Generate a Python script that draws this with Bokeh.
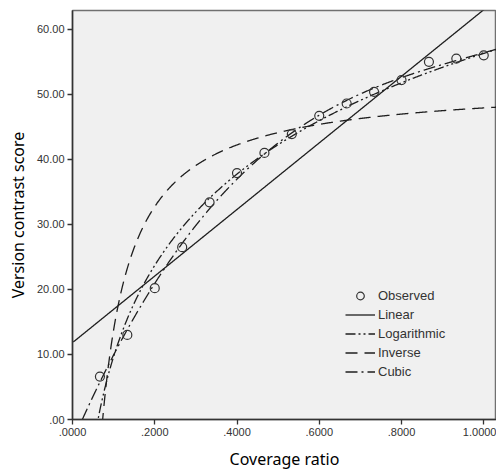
import numpy as np
from bokeh.plotting import figure
from bokeh.models import FixedTicker, Range1d, Legend, LegendItem
from bokeh.embed import file_html
from bokeh.resources import INLINE

# ---- data ----
coverage = [0.0667, 0.1333, 0.2000, 0.2667, 0.3333, 0.4000, 0.4667, 0.5333,
            0.6000, 0.6667, 0.7333, 0.8000, 0.8667, 0.9333, 1.0000]
score = [6.6, 13.0, 20.2, 26.5, 33.4, 37.9, 41.0, 43.9,
         46.7, 48.6, 50.4, 52.2, 55.0, 55.5, 56.0]

x_ticks = [0.0, 0.2, 0.4, 0.6, 0.8, 1.0]
x_tick_labels = [".0000", ".2000", ".4000", ".6000", ".8000", "1.0000"]
y_ticks = [0, 10, 20, 30, 40, 50, 60]
y_tick_labels = [".00", "10.00", "20.00", "30.00", "40.00", "50.00", "60.00"]

x_label = "Coverage ratio"
y_label = "Version contrast score"
series_names = ["Observed", "Linear", "Logarithmic", "Inverse", "Cubic"]

# ---- curve estimation (least squares fits of the observed data) ----
xo = np.array(coverage)
yo = np.array(score)
lin = np.polyfit(xo, yo, 1)
logc = np.polyfit(np.log(xo), yo, 1)
inv = np.polyfit(1.0 / xo, yo, 1)
cub = np.polyfit(xo, yo, 3)

xg = np.linspace(0.002, 1.04, 800)
y_lin = np.polyval(lin, xg)
y_log = np.polyval(logc, np.log(xg))
y_inv = np.polyval(inv, 1.0 / xg)
y_cub = np.polyval(cub, xg)

ink = "#1e1e1e"

p = figure(width=496, height=472, output_backend="svg", toolbar_location=None,
           x_range=Range1d(0, 1.031), y_range=Range1d(0, 62.9),
           min_border_left=72, min_border_right=0, min_border_top=10,
           min_border_bottom=50)

p.background_fill_color = "#f0f0f0"
p.border_fill_color = "white"
p.outline_line_color = "#707070"
p.outline_line_width = 1.5
p.xgrid.visible = False
p.ygrid.visible = False

for ax in (p.xaxis[0], p.yaxis[0]):
    ax.axis_line_color = "#333333"
    ax.axis_line_width = 1.5
    ax.major_tick_line_color = "#333333"
    ax.major_tick_line_width = 1.3
    ax.major_tick_out = 5
    ax.major_tick_in = 0
    ax.minor_tick_line_color = None
    ax.major_label_text_font = "Liberation Sans"
    ax.major_label_text_font_size = "11px"
    ax.major_label_text_color = "#333333"
    ax.major_label_standoff = 3
    ax.axis_label_text_font = "Noto Sans"
    ax.axis_label_text_font_size = "16px"
    ax.axis_label_text_font_style = "normal"
    ax.axis_label_text_color = "#000000"

p.xaxis[0].ticker = FixedTicker(ticks=x_ticks)
p.yaxis[0].ticker = FixedTicker(ticks=y_ticks)
p.xaxis[0].major_label_overrides = {t: l for t, l in zip(x_ticks, x_tick_labels)}
p.yaxis[0].major_label_overrides = {t: l for t, l in zip(y_ticks, y_tick_labels)}
p.xaxis[0].axis_label = x_label
p.yaxis[0].axis_label = y_label
p.xaxis[0].axis_label_standoff = 9
p.yaxis[0].axis_label_standoff = 5

r_lin = p.line(xg, y_lin, line_color=ink, line_width=1.3)
r_log = p.line(xg, y_log, line_color=ink, line_width=1.3, line_dash="10 3 2 3 2 3")
r_inv = p.line(xg, y_inv, line_color=ink, line_width=1.3, line_dash="12 7")
r_cub = p.line(xg, y_cub, line_color=ink, line_width=1.3, line_dash="12 4 2 4")
r_obs = p.scatter(coverage, score, marker="circle", size=9, fill_color=None,
                  line_color="#333333", line_width=1.2)

legend = Legend(items=[
    LegendItem(label=series_names[0], renderers=[r_obs]),
    LegendItem(label=series_names[1], renderers=[r_lin]),
    LegendItem(label=series_names[2], renderers=[r_log]),
    LegendItem(label=series_names[3], renderers=[r_inv]),
    LegendItem(label=series_names[4], renderers=[r_cub]),
], location=(273, 38))
legend.border_line_color = None
legend.background_fill_alpha = 0
legend.padding = 0
legend.margin = 0
legend.spacing = 0
legend.label_height = 19
legend.glyph_height = 19
legend.glyph_width = 30
legend.label_standoff = 3
legend.label_text_font = "Liberation Sans"
legend.label_text_font_size = "13px"
legend.label_text_color = "#333333"
p.add_layout(legend, "center")

open("out.html", "w").write(file_html(p, INLINE))
